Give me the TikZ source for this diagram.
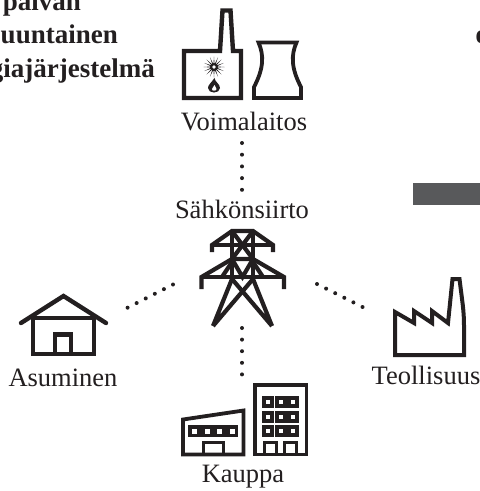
\documentclass[tikz,border=0pt]{standalone}
\usepackage{fontspec}
\usetikzlibrary{calc}
\setmainfont{Liberation Serif}
\definecolor{ink}{HTML}{231F20}
\definecolor{band}{HTML}{58595B}
\tikzset{
  x=1pt,y=-1pt,
  icon/.style={draw=ink,line width=4.4pt,miter limit=6,fill=none},
  thin icon/.style={draw=ink,line width=3.6pt},
  tower line/.style={draw=ink,line width=4.2pt},
  dots/.style={draw=ink,line width=4pt,line cap=round,dash pattern=on 0pt off #1},
  lab/.style={anchor=base,inner sep=0pt,text=ink,font=\fontsize{26.5}{30}\selectfont},
  head/.style={anchor=base east,inner sep=0pt,text=ink,font=\fontsize{27}{30}\selectfont\bfseries},
}
\newcommand{\winbox}[2]{%
  \fill[ink] (#1-6,#2-6) rectangle (#1+6,#2+6);
  \fill[white] (#1-2.3,#2-2.3) rectangle (#1+2.3,#2+2.3);}
\begin{document}
\begin{tikzpicture}
\useasboundingbox (0,0) rectangle (480,491);
\fill[white] (0,0) rectangle (480,491);
% headings
\node[head] (h1) at (81,10) {palvan};
\node[head] (h2) at (118,43) {uuntainen};
\node[head] (h3) at (155,77) {giajärjestelmä};
\node[head,anchor=base west] (h4) at (475.5,43) {e};
\fill[band] (413,183) rectangle (480,205);
% power plant
\draw[icon] (184,98)--(184,51)--(220,51)--(222.5,10.5)--(230.5,10.5)--(233,51)--(241,51)--(241,98)--cycle;
\draw[icon,line width=3.8pt] (258.5,42.5)--(296.5,42.5) .. controls (291,55) and (291,68) .. (301,87)--(301,98)--(254,98)--(254,87) .. controls (264,68) and (264,55) .. (258.5,42.5)--cycle;
\foreach \a in {0,22.5,...,337.5}{
  \fill[ink] ($(214,67)+(\a:10.5)$)--($(214,67)+(\a+10:3)$)--($(214,67)+(\a-10:3)$)--cycle;}
\fill[ink] (214,67) circle (4pt);
\fill[white] (214,67) circle (1.8pt);
\fill[ink] (214.5,78) .. controls (215,82) and (220,84) .. (220,88) .. controls (220,91) and (217,92.5) .. (214,92.5) .. controls (211,92.5) and (208,91) .. (208,88) .. controls (208,85) and (211,83) .. (214.5,78)--cycle;
\fill[white] (214.5,85) .. controls (215,87) and (216.5,87.5) .. (216.5,89) .. controls (216.5,90.3) and (215.5,90.6) .. (214,90.6) .. controls (212.5,90.6) and (212,90.3) .. (212,89) .. controls (212,87.5) and (214,87) .. (214.5,85)--cycle;
% labels
\node[lab] (plant) at (244,130) {Voimalaitos};
\node[lab] (grid) at (242,218) {Sähkönsiirto};
\node[lab] (home) at (63,386) {Asuminen};
\node[lab] (ind) at (426,384) {Teollisuus};
\node[lab] (shop) at (243,482) {Kauppa};
% dotted connectors
\coordinate (a1) at (242,143); \coordinate (a2) at (242,191);
\coordinate (b1) at (242,328); \coordinate (b2) at (242,376);
\coordinate (c1) at (173,284.5); \coordinate (c2) at (125,309);
\coordinate (d1) at (317,284); \coordinate (d2) at (364.5,308);
\draw[dots=11.7pt] (a1)--(a2);
\draw[dots=11.6pt] (b1)--(b2);
\draw[dots=10.2pt] (c1)--(c2);
\draw[dots=10.2pt] (d1)--(d2);
% pylon
\draw[tower line,line join=miter] (212,252)--(212,245)--(232,231)--(253,231)--(273,245)--(273,252);
\draw[tower line] (212,245)--(273,245);
\draw[tower line] (201.5,289)--(201.5,277)--(232,259)--(253,259)--(284,277)--(284,289);
\draw[tower line] (201.5,277)--(284,277);
\draw[tower line] (232,231)--(232,280);
\draw[tower line] (253,231)--(253,280);
\draw[tower line] (232,231)--(253,259);
\draw[tower line] (253,231)--(232,259);
\draw[tower line] (232,259)--(242.5,277)--(253,259);
\draw[tower line] (222,277)--(232,262)(263,277)--(253,262);
\draw[tower line] (213,326)--(232,279)(213,326)--(253,279);
\draw[tower line] (272,326)--(253,279)(272,326)--(232,279);
% house
\draw[icon,line cap=round] (21,323)--(63.5,296)--(106,323);
\draw[icon,line join=miter] (33,318)--(94,318)(33,318)--(33,354)--(94,354)--(94,318);
\draw[icon] (55,354)--(55,334.5)--(71,334.5)--(71,354);
% factory
\draw[icon,line width=4pt] (395,355)--(395,312)--(414,323)--(414,311)--(432,323)--(432,311)--(448,323)--(452.5,279)--(459.5,279) .. controls (462,300) and (464,310) .. (464,325)--(464,355)--cycle;
% shop
\draw[thin icon,line width=3.8pt] (183,419.5)--(243.5,410.5)--(243.5,454.5)--(183,454.5)--cycle;
\fill[ink] (188,425) rectangle (238,437);
\foreach \x in {194,207,219,232}{\fill[white] (\x-2.5,428.5) rectangle (\x+2.5,433.5);}
\draw[thin icon] (203.5,454.5)--(203.5,442.5)--(223.5,442.5)--(223.5,454.5);
% office
\draw[thin icon,line width=3.8pt] (255,385) rectangle (306.5,454.5);
\foreach \x in {268,281,293}{\foreach \y in {402,417,431}{\winbox{\x}{\y}}}
\draw[thin icon] (264.5,454.5)--(264.5,442.5)--(276.5,442.5)--(276.5,454.5);
\draw[thin icon] (284.5,454.5)--(284.5,442.5)--(296.5,442.5)--(296.5,454.5);
\end{tikzpicture}
\end{document}
